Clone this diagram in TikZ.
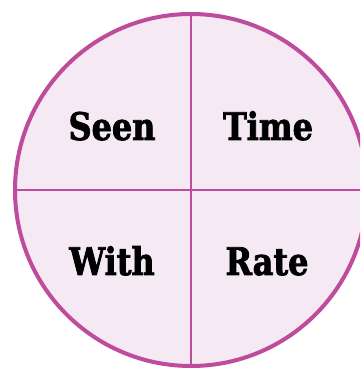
\documentclass[tikz,border=0pt]{standalone}
\usepackage{fontspec}
\usepackage{xcolor}
\usepackage{tikz}
\usetikzlibrary{positioning,shapes.geometric}
\newfontfamily\slabfont{DejaVu Serif}[FakeStretch=0.84,FakeBold=2]
\definecolor{rim}{HTML}{BE4B9B}
\definecolor{blush}{HTML}{F5E9F3}

\begin{document}
\begin{tikzpicture}[
  x=1pt, y=1pt,
  disc/.style={draw=rim, fill=blush, circle, line width=4pt, minimum size=352pt, inner sep=0pt},
  divider/.style={draw=rim, line width=2.2pt},
  word/.style={anchor=base, inner sep=0pt, font=\slabfont\bfseries\fontsize{38}{40}\selectfont}
]
\useasboundingbox (0,0) rectangle (360,369);
\clip (0,0) rectangle (360,369);
\node[disc] (disc) at (191,179) {};
\draw[divider] (disc.north) -- (disc.south);
\draw[divider] (disc.west) -- (disc.east);
\node[word] (seen) at (112,229) {Seen};
\node[word] (time) at (268,229) {Time};
\node[word] (with) at (112,94) {With};
\node[word] (rate) at (267,94) {Rate};
\end{tikzpicture}
\end{document}
